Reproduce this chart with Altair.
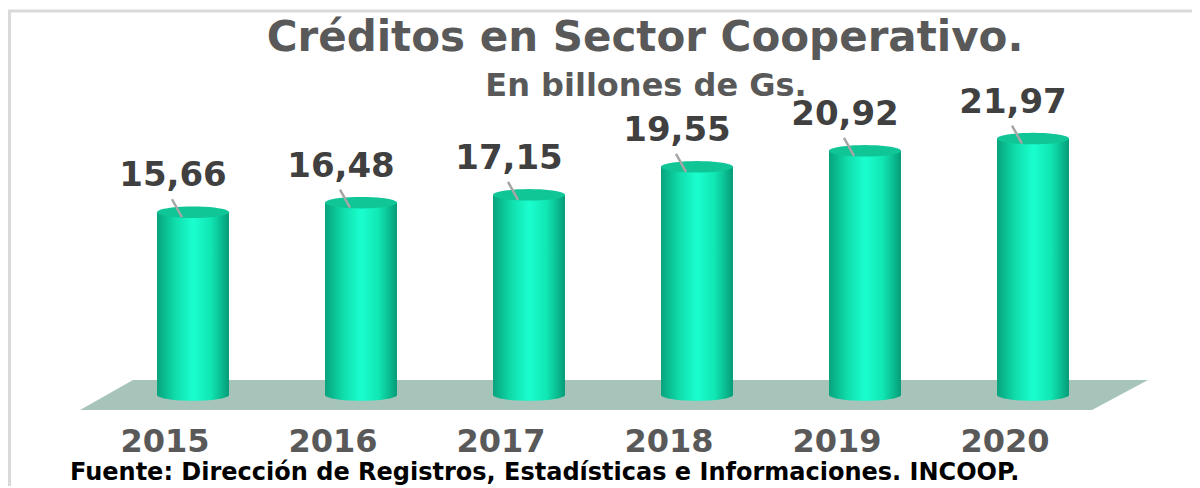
import math
import altair as alt
import pandas as pd

# ---- data ----
years = ["2015", "2016", "2017", "2018", "2019", "2020"]
values = [15.66, 16.48, 17.15, 19.55, 20.92, 21.97]

title_text = "Créditos en Sector Cooperativo."
subtitle_text = "En billones de Gs."
footer_text = "Fuente: Dirección de Registros, Estadísticas e Informaciones. INCOOP."

df = pd.DataFrame({"year": years, "value": values})
df["label"] = [f"{v:.2f}".replace(".", ",") for v in values]
df["zero"] = 0.0

W, H = 1184, 478
FONT = "DejaVu Sans"

# ---- scales ----
xscale = alt.Scale(domain=years, range=[101, 1109], paddingInner=0, paddingOuter=0)
yscale = alt.Scale(domain=[0, 33.16], range=[387, 0])
X = alt.X("year:N", scale=xscale, axis=None)

# ---- shapes ----
def ellipse_path(ry, n=40):
    pts = []
    for i in range(n):
        a = 2 * math.pi * i / n
        pts.append(f"{math.cos(a):.4f} {ry * math.sin(a):.4f}")
    return "M " + " L ".join(pts) + " Z"

ELL = ellipse_path(0.16)
BAR_W = 72

side_grad = alt.Gradient(
    gradient="linear", x1=0, x2=1, y1=0, y2=0,
    stops=[
        alt.GradientStop(color="#07a37d", offset=0),
        alt.GradientStop(color="#10dcaa", offset=0.25),
        alt.GradientStop(color="#1affcf", offset=0.5),
        alt.GradientStop(color="#10e6b3", offset=0.75),
        alt.GradientStop(color="#069c77", offset=1),
    ],
)

base = alt.Chart(df)

floor_path = "M -1.068 0.03 L -0.962 -0.03 L 1.068 -0.03 L 0.956 0.03 Z"
floor = alt.Chart(pd.DataFrame({"zero": [0.0]})).mark_point(
    shape=floor_path, size=1000000, filled=True, color="#a7c4ba", opacity=1, strokeWidth=0
).encode(x=alt.value(606), y=alt.Y("zero:Q", scale=yscale, axis=None))

bottom_ell = base.mark_point(
    shape=ELL, size=BAR_W * BAR_W, filled=True, color=side_grad, opacity=1, strokeWidth=0
).encode(x=X, y=alt.Y("zero:Q", scale=yscale, axis=None))

bars = base.mark_bar(size=BAR_W, color=side_grad).encode(
    x=X, y=alt.Y("value:Q", scale=yscale, axis=None), y2=alt.Y2("zero:Q")
)

top_ell = base.mark_point(
    shape=ELL, size=BAR_W * BAR_W, filled=True, color="#10c596", opacity=1, strokeWidth=0
).encode(x=X, y=alt.Y("value:Q", scale=yscale, axis=None))

leader = base.mark_point(
    shape="M -0.275 0.125 L -0.525 -0.325", size=6400, filled=False,
    color="#a6a6a6", strokeWidth=2.5, opacity=1,
).encode(x=X, y=alt.Y("value:Q", scale=yscale, axis=None))

value_labels = base.mark_text(
    font=FONT, fontWeight="bold", fontSize=34, color="#404040",
    align="center", baseline="alphabetic", dx=-20, dy=-26,
).encode(x=X, y=alt.Y("value:Q", scale=yscale, axis=None), text="label:N")

year_labels = base.mark_text(
    font=FONT, fontWeight="bold", fontSize=32, color="#595959",
    align="center", baseline="alphabetic", dx=-28,
).encode(x=X, y=alt.value(444), text="year:N")

one = pd.DataFrame({"t": [title_text], "s": [subtitle_text], "f": [footer_text]})
title = alt.Chart(one).mark_text(
    font=FONT, fontWeight="bold", fontSize=42, color="#595959",
    align="center", baseline="alphabetic",
).encode(x=alt.value(637), y=alt.value(43), text="t:N")
subtitle = alt.Chart(one).mark_text(
    font=FONT, fontWeight="bold", fontSize=32, color="#595959",
    align="center", baseline="alphabetic",
).encode(x=alt.value(638), y=alt.value(88), text="s:N")
footer = alt.Chart(one).mark_text(
    font=FONT, fontWeight="bold", fontSize=24, color="#000000",
    align="left", baseline="alphabetic",
).encode(x=alt.value(62), y=alt.value(472), text="f:N")

frame_top = alt.Chart(one).mark_rule(color="#d9d9d9", strokeWidth=3).encode(
    x=alt.value(0), x2=alt.value(W), y=alt.value(3)
)
frame_left = alt.Chart(one).mark_rule(color="#d9d9d9", strokeWidth=3).encode(
    x=alt.value(1.5), y=alt.value(2), y2=alt.value(H)
)

chart = alt.layer(
    frame_top, frame_left, floor, bottom_ell, bars, top_ell, leader,
    value_labels, year_labels, title, subtitle, footer,
).properties(
    width=W, height=H, autosize=alt.AutoSizeParams(type="none"), padding=0,
    background="#ffffff",
).configure_view(stroke=None)

chart.save("out.html", embed_options={"renderer": "svg", "actions": False})
